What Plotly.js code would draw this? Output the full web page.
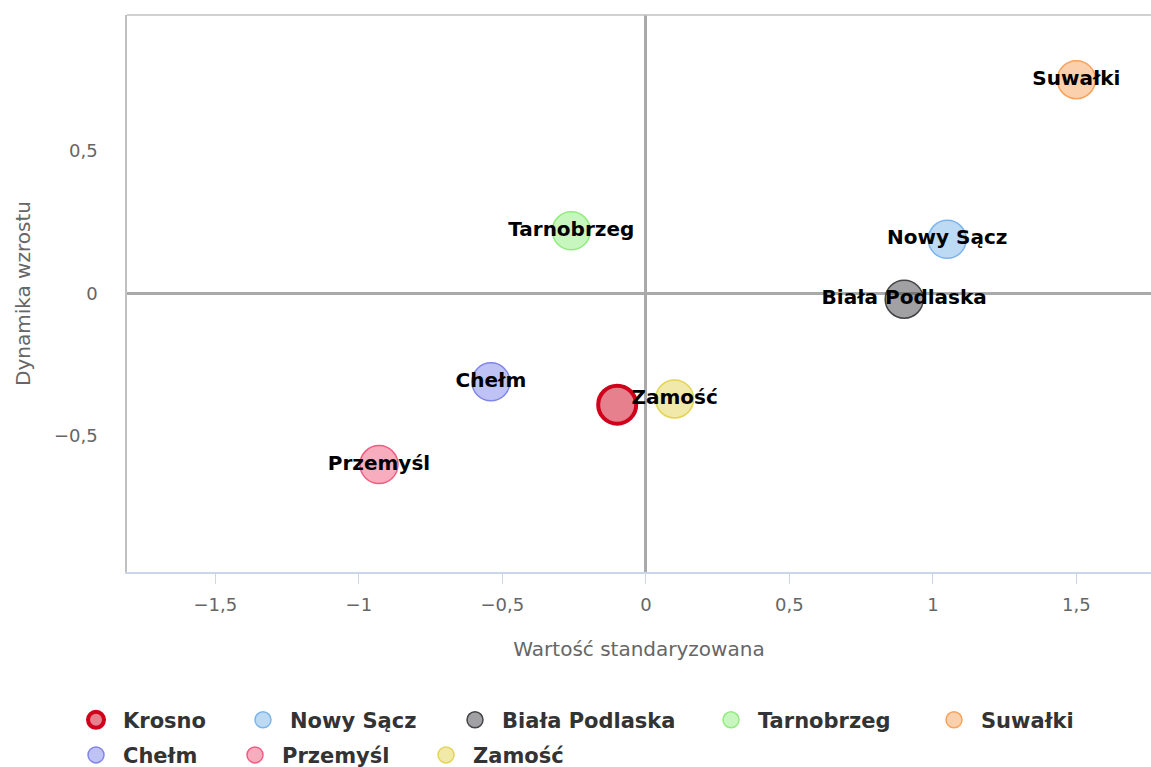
<!DOCTYPE html>
<html>
<head>
<meta charset="utf-8">
<script src="https://cdn.plot.ly/plotly-3.0.1.min.js"></script>
<style>html,body{margin:0;padding:0;background:#fff;}#chart{width:1151px;height:767px;}</style>
</head>
<body>
<div id="chart"></div>
<script>
// Data
const cities = ["Krosno", "Nowy Sącz", "Biała Podlaska", "Tarnobrzeg", "Suwałki", "Chełm", "Przemyśl", "Zamość"];
const xValues = [-0.10, 1.05, 0.90, -0.26, 1.50, -0.54, -0.93, 0.10];
const yValues = [-0.39, 0.19, -0.02, 0.22, 0.75, -0.31, -0.60, -0.37];
const showLabel = [false, true, true, true, true, true, true, true];
const lineColors = ["#d0021b", "#7cb5ec", "#434348", "#90ed7d", "#f7a35c", "#8085e9", "#f15c80", "#e4d354"];
const fillColors = ["rgba(208,2,27,0.5)", "rgba(124,181,236,0.5)", "rgba(67,67,72,0.5)", "rgba(144,237,125,0.5)",
                    "rgba(247,163,92,0.5)", "rgba(128,133,233,0.5)", "rgba(241,92,128,0.5)", "rgba(228,211,84,0.5)"];
const lineWidths = [4, 1.5, 1.5, 1.5, 1.5, 1.5, 1.5, 1.5];

// legend entry layout (pixel position of each legend symbol, row)
const legendPx = [95, 262, 474, 730, 953, 95, 254, 445];
const legendRow = [0, 0, 0, 0, 0, 1, 1, 1];

const legendName = i => (i === 0 ? "legend" : "legend" + (i + 1));

const traces = cities.map((c, i) => ({
  type: "scatter",
  mode: "markers+text",
  name: c,
  x: [xValues[i]],
  y: [yValues[i]],
  text: [showLabel[i] ? c : ""],
  textposition: "middle center",
  textfont: {family: "DejaVu Sans", size: 20, weight: "bold", color: "#000"},
  cliponaxis: false,
  marker: {size: 38, color: fillColors[i], line: {color: lineColors[i], width: lineWidths[i]}},
  legend: legendName(i),
  hoverinfo: "name+x+y"
}));

const layout = {
  width: 1151, height: 767,
  margin: {l: 127, r: 0, t: 15, b: 195, autoexpand: false},
  paper_bgcolor: "#fff", plot_bgcolor: "#fff",
  separators: ", ",
  showlegend: true,
  font: {family: "DejaVu Sans", color: "#666"},
  xaxis: {
    range: [-1.808, 1.76],
    tickvals: [-1.5, -1, -0.5, 0, 0.5, 1, 1.5],
    showgrid: false,
    zeroline: true, zerolinecolor: "#aaaaaa", zerolinewidth: 3,
    showline: true, linecolor: "#ccd6eb", linewidth: 2,
    ticks: "outside", ticklen: 10, tickcolor: "#ccd6eb", tickwidth: 1,
    ticklabelstandoff: 5,
    tickfont: {family: "DejaVu Sans", size: 18, color: "#666"},
    title: {text: "Wartość standaryzowana", font: {family: "DejaVu Sans", size: 20, color: "#666"}, standoff: 28}
  },
  yaxis: {
    range: [-0.977, 0.977],
    tickvals: [-0.5, 0, 0.5],
    showgrid: false,
    zeroline: true, zerolinecolor: "#aaaaaa", zerolinewidth: 3,
    showline: true, linecolor: "#c0c0c0", linewidth: 1.5,
    ticks: "",
    ticklabelstandoff: 24,
    tickfont: {family: "DejaVu Sans", size: 18, color: "#666"},
    title: {text: "Dynamika wzrostu", font: {family: "DejaVu Sans", size: 20, color: "#666"}, standoff: 18}
  },
  shapes: [
    {type: "line", xref: "paper", yref: "paper", x0: 0, x1: 1, y0: 1, y1: 1, line: {color: "#c0c0c0", width: 1.5}}
  ]
};

const rowY = [-0.266, -0.329];
cities.forEach((c, i) => {
  layout[legendName(i)] = {
    orientation: "h",
    x: (legendPx[i] - 26 - 127) / 1024, xanchor: "left",
    y: rowY[legendRow[i]], yanchor: "middle",
    itemwidth: 44,
    font: {family: "DejaVu Sans", size: 21, weight: "bold", color: "#333"},
    itemclick: false, itemdoubleclick: false,
    bgcolor: "rgba(0,0,0,0)"
  };
});

Plotly.newPlot("chart", traces, layout, {displayModeBar: false, responsive: false});
</script>
</body>
</html>
